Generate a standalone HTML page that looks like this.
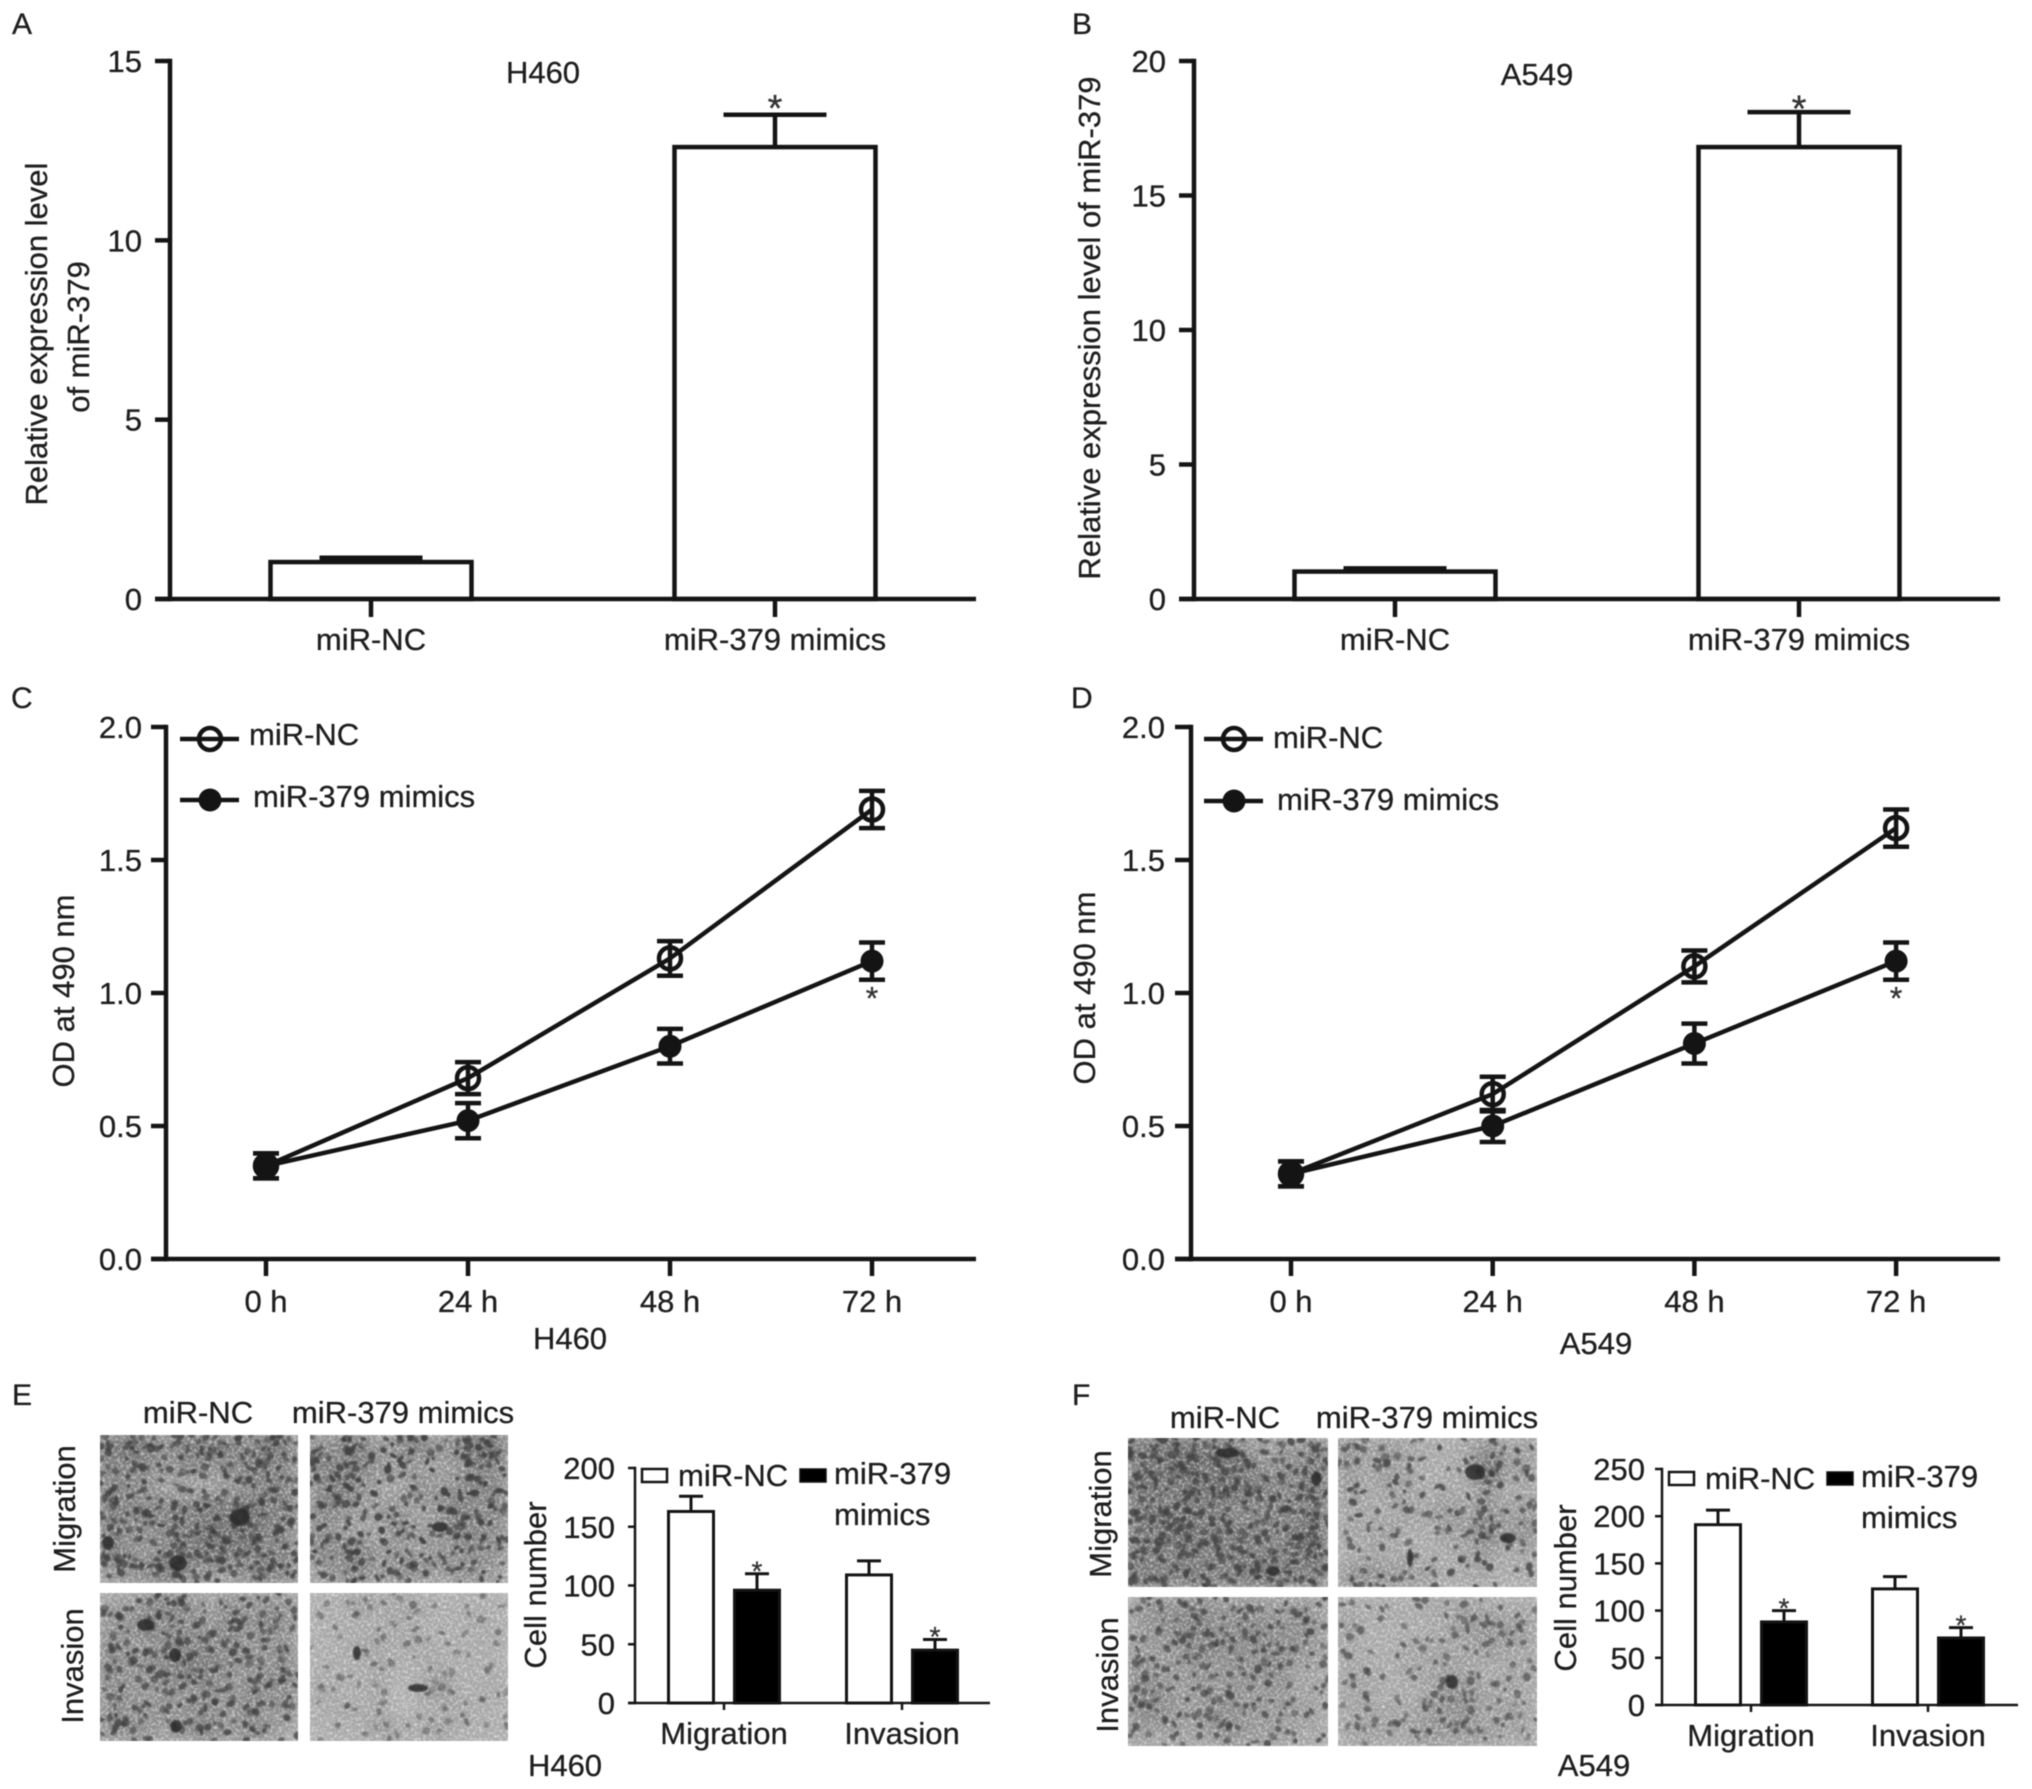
<!DOCTYPE html>
<html lang="en">
<head>
<meta charset="utf-8">
<title>miR-379 figure panels</title>
<style>
html,body{margin:0;padding:0;background:#fff;}
#figure{display:block;width:2032px;height:1789px;filter:blur(0.6px);}
text{font-family:"Liberation Sans",sans-serif;font-size:31px;fill:#1e1e1e;stroke:#1e1e1e;stroke-width:0.3px;}
.letter{font-size:30px;}
</style>
</head>
<body>
<svg id="figure" xmlns="http://www.w3.org/2000/svg" width="2032" height="1789" viewBox="0 0 2032 1789">
<defs>
<filter id="grain" x="0" y="0" width="100%" height="100%">
<feTurbulence type="fractalNoise" baseFrequency="0.34" numOctaves="2" seed="7"/>
<feColorMatrix type="matrix" values="0 0 0 0 1  0 0 0 0 1  0 0 0 0 1  2.2 0 0 0 -0.92"/>
</filter>
<filter id="soft" x="-5%" y="-5%" width="110%" height="110%"><feGaussianBlur stdDeviation="0.8"/></filter>
<filter id="softer" x="-5%" y="-5%" width="110%" height="110%"><feGaussianBlur stdDeviation="8"/></filter>
</defs>
<rect width="2032" height="1789" fill="#fff"/>

<g id="panel-a">
<text class="letter" x="12" y="34">A</text>
<text x="543" y="83" text-anchor="middle">H460</text>
<text transform="translate(47,334) rotate(-90)" text-anchor="middle">Relative expression level</text>
<text transform="translate(89,337) rotate(-90)" text-anchor="middle">of miR-379</text>
</g>
<g id="panel-b">
<text class="letter" x="1072" y="34">B</text>
<text x="1537" y="85" text-anchor="middle">A549</text>
<text transform="translate(1100,328) rotate(-90)" text-anchor="middle">Relative expression level of miR-379</text>
</g>
<g id="panel-c">
<text class="letter" x="11" y="708">C</text>
<text transform="translate(74,991) rotate(-90)" text-anchor="middle">OD at 490 nm</text>
<text x="570" y="1349" text-anchor="middle">H460</text>
</g>
<g id="panel-d">
<text class="letter" x="1071" y="708">D</text>
<text transform="translate(1095,988) rotate(-90)" text-anchor="middle">OD at 490 nm</text>
<text x="1596" y="1354" text-anchor="middle">A549</text>
</g>
<g id="panel-e">
<text class="letter" x="12" y="1405">E</text>
<text x="198" y="1423" text-anchor="middle">miR-NC</text>
<text x="403" y="1423" text-anchor="middle">miR-379 mimics</text>
<text transform="translate(75,1509) rotate(-90)" text-anchor="middle">Migration</text>
<text transform="translate(83,1666) rotate(-90)" text-anchor="middle">Invasion</text>
<text transform="translate(546,1585) rotate(-90)" text-anchor="middle">Cell number</text>
<text x="565" y="1776" text-anchor="middle">H460</text>
</g>
<g id="panel-f">
<text class="letter" x="1072" y="1405">F</text>
<text x="1225" y="1428" text-anchor="middle">miR-NC</text>
<text x="1427" y="1428" text-anchor="middle">miR-379 mimics</text>
<text transform="translate(1111,1514) rotate(-90)" text-anchor="middle">Migration</text>
<text transform="translate(1118,1675) rotate(-90)" text-anchor="middle">Invasion</text>
<text transform="translate(1576,1588) rotate(-90)" text-anchor="middle">Cell number</text>
<text x="1594" y="1776" text-anchor="middle">A549</text>
</g>
</svg>

<script>
// ---- chart data ----
const seriesNames = ['miR-NC', 'miR-379 mimics'];
const barCategories = ['miR-NC', 'miR-379 mimics'];
const aTicks = [0, 5, 10, 15];
const aValues = [1.03, 12.6];
const aErrors = [0.12, 0.9];
const bTicks = [0, 5, 10, 15, 20];
const bValues = [1.02, 16.8];
const bErrors = [0.12, 1.3];

const timeLabels = ['0 h', '24 h', '48 h', '72 h'];
const odTicks = ['0.0', '0.5', '1.0', '1.5', '2.0'];
const cNc = [0.35, 0.68, 1.13, 1.69];
const cNcErr = [0.047, 0.06, 0.065, 0.07];
const cMimics = [0.35, 0.52, 0.80, 1.12];
const cMimicsErr = [0.047, 0.066, 0.065, 0.07];
const dNc = [0.32, 0.62, 1.10, 1.62];
const dNcErr = [0.047, 0.065, 0.06, 0.07];
const dMimics = [0.32, 0.50, 0.81, 1.12];
const dMimicsErr = [0.047, 0.06, 0.075, 0.07];

const assayGroups = ['Migration', 'Invasion'];
const eTicks = [0, 50, 100, 150, 200];
const eNc = [163, 109];
const eNcErr = [13, 12];
const eMimics = [96, 45];
const eMimicsErr = [14, 9];
const fTicks = [0, 50, 100, 150, 200, 250];
const fNc = [191, 123];
const fNcErr = [15.5, 13];
const fMimics = [88, 71];
const fMimicsErr = [12, 11];

// Density (0-9) of stained cells in a 10x7 grid, read per micrograph by eye.
const emNcDensity = ['7875787586','6553645665','6542223566','8566677866','6456678865','8445787656','4568634676'];
const emMimicsDensity = ['6573574698','7564332455','5752254475','6533424746','5322633855','6573334354','4463553553'];
const eiNcDensity = ['3356525444','4474536464','6345655444','5456765346','5435453555','5444453535','5543563642'];
const eiMimicsDensity = ['1132221111','1111211121','1122121111','1112112111','2112014112','1212011211','1113213111'];
const fmNcDensity = ['8888873346','7788775557','8677877568','7866655657','6787676588','7666676678','7677668757'];
const fmMimicsDensity = ['5242212523','4232112933','3132121412','2213242524','2231133635','1212112312','4543312212'];
const fiNcDensity = ['3546444343','3456455453','3345554543','5334344522','5533443423','5533543332','3232443322'];
const fiMimicsDensity = ['2121223212','3111123433','2112222322','2212232122','2211245222','2222344232','2322433322'];

// ---- helpers ----
const SVGNS = 'http://www.w3.org/2000/svg';
const INK = '#141414';

function add(parent, tag, attrs, name) {
  const node = document.createElementNS(SVGNS, tag);
  
  
  for (const k in attrs) node.setAttribute(k, attrs[k]);
  parent.appendChild(node);
  return node;
}
function line(p, x1, y1, x2, y2, w, name) {
  return add(p, 'line', {x1: x1, y1: y1, x2: x2, y2: y2, stroke: INK, 'stroke-width': w}, name);
}
function label(p, x, y, str, anchor, name) {
  const t = add(p, 'text', {x: x, y: y, 'text-anchor': anchor}, name);
  t.textContent = str;
  return t;
}
function star(p, x, cy, size, name) {
  const t = add(p, 'text', {x: x, y: cy + size * 0.56, 'text-anchor': 'middle', style: 'font-size:' + size + 'px;fill:#333;stroke:#333'}, name);
  t.textContent = '*';
}
function linearY(lo, hi, yLo, yHi) {
  return function (v) { return yLo + (v - lo) / (hi - lo) * (yHi - yLo); };
}
function drawAxes(p, c, ticks, xTicks, y) {
  const w = c.axisW;
  line(p, c.axisX, y(+ticks[ticks.length - 1]) - w / 2, c.axisX, c.y0 + w / 2, w, 'y-axis-line');
  line(p, c.axisX - c.tickLen, c.y0, c.right, c.y0, w, 'x-axis-line');
  ticks.forEach(function (t) {
    const py = y(+t);
    line(p, c.axisX - c.tickLen, py, c.axisX, py, w, 'y-tick');
    label(p, c.labelRight, py + 11, String(t), 'end', 'y-tick-label');
  });
  xTicks.forEach(function (x) { line(p, x, c.y0, x, c.y0 + c.xTickLen, w, 'x-tick'); });
}
function drawBar(p, cx, bw, value, err, y, y0, black, sw, capW, name) {
  const top = y(value);
  const etop = y(value + err);
  line(p, cx, top, cx, etop, sw, name + '-error-stem');
  line(p, cx - capW / 2, etop, cx + capW / 2, etop, sw, name + '-error-cap');
  add(p, 'rect', {x: cx - bw / 2, y: top, width: bw, height: y0 - top, fill: black ? '#000' : '#fff', stroke: INK, 'stroke-width': sw}, name);
}

// ---- simple two-bar charts (A, B) ----
function drawSimpleBars(id, c, ticks, values, errors) {
  const p = document.getElementById(id);
  const y = linearY(0, +ticks[ticks.length - 1], c.y0, c.yTop);
  const x = function (i) { return c.x0 + i * c.step; };
  values.forEach(function (v, i) {
    drawBar(p, x(i), c.barW, v, errors[i], y, c.y0, false, 4.5, c.capW, 'bar-' + i);
  });
  drawAxes(p, c, ticks, values.map(function (v, i) { return x(i); }), y);
  barCategories.forEach(function (cat, i) { label(p, x(i), c.catY, cat, 'middle', 'x-tick-label'); });
  star(p, x(1), y(values[1] + errors[1]) - c.starGap, 38, 'significance-star');
}

// ---- line charts (C, D) ----
function drawLines(id, c, nc, ncErr, mim, mimErr) {
  const p = document.getElementById(id);
  const y = linearY(0, 2, c.y0, c.yTop);
  const x = function (i) { return c.x0 + i * c.step; };
  const xs = timeLabels.map(function (t, i) { return x(i); });
  drawAxes(p, c, odTicks, xs, y);
  timeLabels.forEach(function (t, i) { label(p, x(i), c.catY, t, 'middle', 'x-tick-label'); });
  [[nc, ncErr, false], [mim, mimErr, true]].forEach(function (s, si) {
    const vals = s[0], errs = s[1], solid = s[2];
    const pts = vals.map(function (v, i) { return x(i) + ',' + y(v); }).join(' ');
    add(p, 'polyline', {points: pts, fill: 'none', stroke: INK, 'stroke-width': 4.5}, solid ? 'mimics-line' : 'nc-line');
    vals.forEach(function (v, i) {
      const cx = x(i), a = y(v + errs[i]), b = y(v - errs[i]);
      line(p, cx, a, cx, b, 4.5, 'error-bar');
      line(p, cx - 13, a, cx + 13, a, 4.5, 'error-cap-top');
      line(p, cx - 13, b, cx + 13, b, 4.5, 'error-cap-bottom');
      add(p, 'circle', {cx: cx, cy: y(v), r: 11, fill: solid ? INK : 'none', stroke: INK, 'stroke-width': solid ? 1 : 4.5}, solid ? 'mimics-point' : 'nc-point');
    });
  });
  star(p, x(3), y(mim[3] - mimErr[3]) + 12, 32, 'significance-star');
  // legend
  const L = c.legend;
  line(p, L.x, L.y1, L.x + 59, L.y1, 4.5, 'legend-line-nc');
  add(p, 'circle', {cx: L.x + 30, cy: L.y1, r: 11, fill: 'none', stroke: INK, 'stroke-width': 4.5}, 'legend-marker-nc');
  line(p, L.x, L.y2, L.x + 59, L.y2, 4.5, 'legend-line-mimics');
  add(p, 'circle', {cx: L.x + 30, cy: L.y2, r: 11.5, fill: INK, stroke: 'none'}, 'legend-marker-mimics');
  label(p, L.x + 69, L.y1 + L.text1, seriesNames[0], 'start', 'legend-label-nc');
  label(p, L.x + 73, L.y2 + L.text2, seriesNames[1], 'start', 'legend-label-mimics');
}

// ---- grouped bars (E, F) ----
function drawGrouped(id, c, ticks, nc, ncErr, mim, mimErr) {
  const p = document.getElementById(id);
  const y = linearY(0, +ticks[ticks.length - 1], c.y0, c.yTop);
  const x = function (i) { return c.x0 + i * c.step; };
  assayGroups.forEach(function (g, i) {
    drawBar(p, x(i) - 33, 45, nc[i], ncErr[i], y, c.y0, false, 3, 24, 'bar-nc-' + g.toLowerCase());
    drawBar(p, x(i) + 33, 45, mim[i], mimErr[i], y, c.y0, true, 3, 24, 'bar-mimics-' + g.toLowerCase());
    star(p, x(i) + 33, y(mim[i] + mimErr[i]) - 9, 28, 'significance-star');
    label(p, x(i), c.catY, g, 'middle', 'x-tick-label');
  });
  drawAxes(p, c, ticks, assayGroups.map(function (g, i) { return x(i); }), y);
  const L = c.legend;
  add(p, 'rect', {x: L.x, y: L.y, width: 25, height: 13, fill: '#fff', stroke: INK, 'stroke-width': 2.5}, 'legend-swatch-nc');
  add(p, 'rect', {x: L.x + 158, y: L.y, width: 26, height: 13, fill: '#000', stroke: INK, 'stroke-width': 1.5}, 'legend-swatch-mimics');
  label(p, L.x + 36, L.y + 17, seriesNames[0], 'start', 'legend-label-nc');
  const parts = seriesNames[1].split(' ');
  label(p, L.x + 192, L.y + 15, parts[0], 'start', 'legend-label-mimics-line-1');
  label(p, L.x + 192, L.y + 56, parts[1], 'start', 'legend-label-mimics-line-2');
}

// ---- micrographs: decorative texture, positions jittered by a fixed-seed generator ----
function seeded(seed) {
  return function () {
    seed |= 0; seed = seed + 0x6D2B79F5 | 0;
    let t = Math.imul(seed ^ seed >>> 15, 1 | seed);
    t = t + Math.imul(t ^ t >>> 7, 61 | t) ^ t;
    return ((t ^ t >>> 14) >>> 0) / 4294967296;
  };
}
function drawMicrograph(parent, name, x, y, w, h, density, extras, seed, tone) {
  const rnd = seeded(seed);
  const g = add(parent, 'g', {}, name);
  add(g, 'rect', {x: x, y: y, width: w, height: h, fill: '#b2b2b2'}, 'micrograph-base');
  const clipId = 'clip-' + name;
  const clip = add(g, 'clipPath', {id: clipId}, 'micrograph-clip');
  add(clip, 'rect', {x: x, y: y, width: w, height: h}, 'micrograph-clip-rect');
  const inner = add(g, 'g', {'clip-path': 'url(#' + clipId + ')'}, 'micrograph-content');
  const cw = w / 10, ch = h / 7;
  const shade = add(inner, 'g', {filter: 'url(#softer)'}, 'micrograph-shading');
  density.forEach(function (row, r) {
    row.split('').forEach(function (ch0, c) {
      const d = +ch0;
      add(shade, 'rect', {x: x + c * cw - 2, y: y + r * ch - 2, width: cw + 4, height: ch + 4, fill: '#000', opacity: (d * 0.04).toFixed(3)}, 'shade-cell');
    });
  });
  add(inner, 'rect', {x: x, y: y, width: w, height: h, filter: 'url(#grain)', opacity: 0.6}, 'micrograph-grain');
  const cells = add(inner, 'g', {filter: 'url(#soft)'}, 'micrograph-cells');
  density.forEach(function (row, r) {
    row.split('').forEach(function (ch0, c) {
      const n = Math.round(+ch0 * 0.85);
      for (let i = 0; i < n; i++) {
        const cx = x + (c + rnd()) * cw, cy = y + (r + rnd()) * ch;
        const rx = 1.8 + rnd() * 3, ry = 1.8 + rnd() * 2.2;
        const rot = Math.round(rnd() * 180);
        add(cells, 'ellipse', {cx: cx.toFixed(1), cy: cy.toFixed(1), rx: rx.toFixed(1), ry: ry.toFixed(1), transform: 'rotate(' + rot + ' ' + cx.toFixed(1) + ' ' + cy.toFixed(1) + ')', fill: '#404040', opacity: (tone * (0.6 + rnd() * 0.4)).toFixed(2)}, 'stained-cell');
      }
    });
  });
  extras.forEach(function (e) {
    add(cells, 'ellipse', {cx: x + e[0], cy: y + e[1], rx: e[2], ry: e[3], fill: '#2a2a2a', opacity: 0.85}, 'dense-cell-clump');
  });
}

// ---- compose ----
drawSimpleBars('panel-a',
  {axisX: 170, y0: 599, yTop: 61, right: 976, tickLen: 15, xTickLen: 18, axisW: 4.5, labelRight: 142, x0: 371, step: 404, barW: 201, capW: 103, catY: 650, starGap: 15},
  aTicks, aValues, aErrors);
drawSimpleBars('panel-b',
  {axisX: 1194, y0: 599, yTop: 61, right: 2000, tickLen: 15, xTickLen: 18, axisW: 4.5, labelRight: 1166, x0: 1395, step: 404, barW: 201, capW: 103, catY: 650, starGap: 12},
  bTicks, bValues, bErrors);
drawLines('panel-c',
  {axisX: 166, y0: 1259, yTop: 727, right: 976, tickLen: 15, xTickLen: 17, axisW: 4.5, labelRight: 142, x0: 266, step: 202, catY: 1312,
   legend: {x: 180, y1: 739, y2: 800, text1: 6, text2: 7}},
  cNc, cNcErr, cMimics, cMimicsErr);
drawLines('panel-d',
  {axisX: 1191, y0: 1259, yTop: 727, right: 2000, tickLen: 16, xTickLen: 17, axisW: 4.5, labelRight: 1165, x0: 1291, step: 201.7, catY: 1312,
   legend: {x: 1204, y1: 739, y2: 801, text1: 9, text2: 9}},
  dNc, dNcErr, dMimics, dMimicsErr);
drawGrouped('panel-e',
  {axisX: 635, y0: 1703, yTop: 1468, right: 990, tickLen: 7, xTickLen: 7, axisW: 2.5, labelRight: 615, x0: 724, step: 178, catY: 1744,
   legend: {x: 642, y: 1469}},
  eTicks, eNc, eNcErr, eMimics, eMimicsErr);
drawGrouped('panel-f',
  {axisX: 1662, y0: 1705, yTop: 1469, right: 2018, tickLen: 7, xTickLen: 7, axisW: 2.5, labelRight: 1645, x0: 1751, step: 177, catY: 1746,
   legend: {x: 1669, y: 1472}},
  fTicks, fNc, fNcErr, fMimics, fMimicsErr);

const panelE = document.getElementById('panel-e');
const panelF = document.getElementById('panel-f');
drawMicrograph(panelE, 'micrograph-e-migration-nc', 100, 1435, 198, 148, emNcDensity, [[8, 108, 6, 7], [78, 128, 9, 8], [140, 82, 10, 9]], 11, 0.9);
drawMicrograph(panelE, 'micrograph-e-migration-mimics', 310, 1435, 198, 148, emMimicsDensity, [[130, 92, 8, 5]], 23, 0.95);
drawMicrograph(panelE, 'micrograph-e-invasion-nc', 100, 1593, 198, 148, eiNcDensity, [[46, 32, 9, 6], [75, 62, 6, 7], [76, 133, 6, 6]], 37, 0.85);
drawMicrograph(panelE, 'micrograph-e-invasion-mimics', 310, 1593, 198, 148, eiMimicsDensity, [[108, 95, 10, 4], [47, 60, 4, 7]], 41, 0.55);
drawMicrograph(panelF, 'micrograph-f-migration-nc', 1128, 1438, 200, 149, fmNcDensity, [[188, 41, 5, 7], [145, 133, 7, 5], [100, 15, 12, 5]], 53, 0.85);
drawMicrograph(panelF, 'micrograph-f-migration-mimics', 1338, 1438, 199, 149, fmMimicsDensity, [[137, 34, 10, 8], [72, 120, 3, 9], [170, 100, 8, 5]], 67, 0.85);
drawMicrograph(panelF, 'micrograph-f-invasion-nc', 1128, 1597, 200, 149, fiNcDensity, [], 71, 0.8);
drawMicrograph(panelF, 'micrograph-f-invasion-mimics', 1338, 1597, 199, 149, fiMimicsDensity, [[114, 85, 6, 7]], 83, 0.7);
</script>
</body>
</html>
